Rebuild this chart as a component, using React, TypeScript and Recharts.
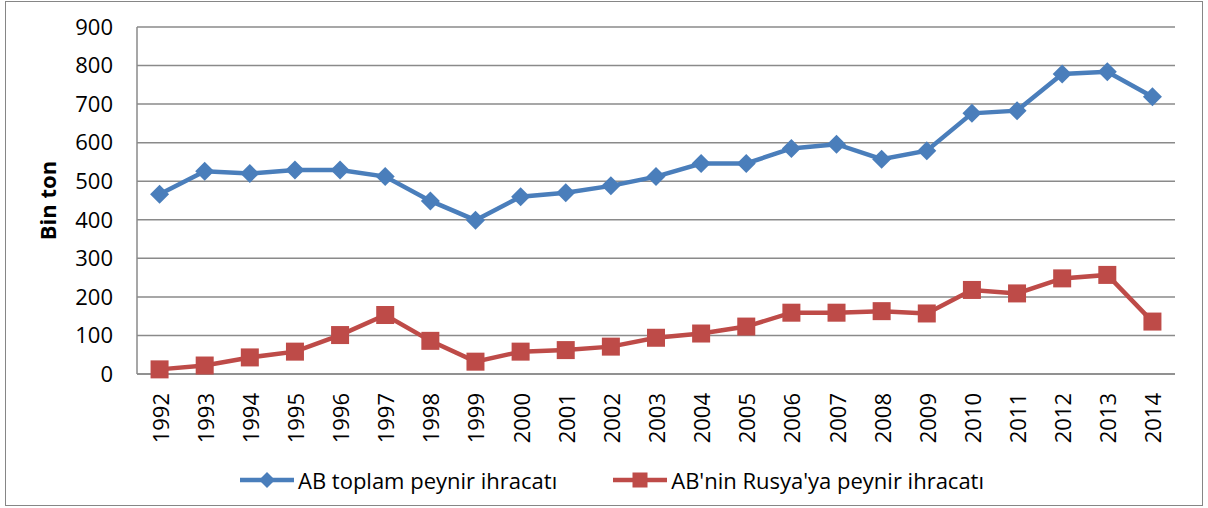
import React from 'react';
import { LineChart, Line, XAxis, YAxis, CartesianGrid, Legend } from 'recharts';

const years = [
  '1992', '1993', '1994', '1995', '1996', '1997', '1998', '1999', '2000', '2001', '2002', '2003',
  '2004', '2005', '2006', '2007', '2008', '2009', '2010', '2011', '2012', '2013', '2014',
];
const totalExports = [466, 526, 520, 529, 529, 512, 449, 399, 460, 470, 488, 512, 546, 546, 585, 596, 557, 579, 676, 683, 778, 784, 719];
const russiaExports = [12, 22, 43, 58, 101, 153, 86, 32, 58, 62, 71, 94, 105, 123, 159, 159, 163, 157, 218, 209, 248, 257, 136];
const yTicks = [0, 100, 200, 300, 400, 500, 600, 700, 800, 900];

const TOTAL_NAME = 'AB toplam peynir ihracatı';
const RUSSIA_NAME = "AB'nin Rusya'ya peynir ihracatı";

const BLUE = '#4A7EBB';
const RED = '#BE4B48';
const GRID = '#8a8a8a';
const FONT = '"Open Sans", Lato, sans-serif';
const FS = 22;

const data = years.map((year, i) => ({
  year,
  total: totalExports[i],
  russia: russiaExports[i],
}));

const Diamond = (props: any) => {
  const { cx, cy, key } = props;
  const r = 9.5;
  return <path key={key} d={`M${cx},${cy - r}L${cx + r},${cy}L${cx},${cy + r}L${cx - r},${cy}Z`} fill={BLUE} />;
};

const Square = (props: any) => {
  const { cx, cy, key } = props;
  const s = 18;
  return <rect key={key} x={cx - s / 2} y={cy - s / 2} width={s} height={s} fill={RED} />;
};

// rotated year labels, reading bottom to top
const YearTick = (props: any) => {
  const { x, y, payload } = props;
  return (
    <g transform={`translate(${x},${y + 19})`}>
      <text x={0} y={0} transform="rotate(-90)" textAnchor="end" dominantBaseline="central" fontSize={FS} fontFamily={FONT} fill="#000">
        {payload.value}
      </text>
    </g>
  );
};

const YTitle = (props: any) => {
  const { viewBox } = props;
  const cx = 41;
  const cy = viewBox.y + viewBox.height / 2;
  return (
    <text x={cx} y={cy} transform={`rotate(-90, ${cx}, ${cy})`} textAnchor="middle" dominantBaseline="central" fontSize={FS} fontWeight="bold" fontFamily={FONT} fill="#000">
      Bin ton
    </text>
  );
};

const LegendIcon = ({ color, square }: { color: string; square?: boolean }) => (
  <svg width={54} height={20} style={{ display: 'block' }}>
    <line x1={0} y1={10} x2={54} y2={10} stroke={color} strokeWidth={4.5} />
    {square ? <rect x={19.5} y={2.5} width={15} height={15} fill={color} /> : <path d="M27,2L35,10L27,18L19,10Z" fill={color} />}
  </svg>
);

const renderLegend = () => (
  <div style={{ display: 'flex', justifyContent: 'center', alignItems: 'center', height: 30, paddingLeft: 16, fontFamily: FONT, fontSize: FS, color: '#000' }}>
    <LegendIcon color={BLUE} />
    <span style={{ marginLeft: 4 }}>{TOTAL_NAME}</span>
    <span style={{ width: 56 }} />
    <LegendIcon color={RED} square />
    <span style={{ marginLeft: 4 }}>{RUSSIA_NAME}</span>
  </div>
);

export default function App() {
  return (
    <div
      style={{
        position: 'absolute',
        left: 5,
        top: 1,
        width: 1198,
        height: 505,
        border: '1px solid #868686',
        boxSizing: 'border-box',
        background: '#fff',
      }}
    >
      <LineChart width={1196} height={503} data={data} margin={{ top: 25, right: 27, bottom: 10, left: 0 }}>
        <CartesianGrid vertical={false} stroke={GRID} strokeWidth={1.5} />
        <XAxis
          dataKey="year"
          scale="band"
          height={91}
          tickSize={0}
          tickMargin={0}
          interval={0}
          axisLine={{ stroke: GRID, strokeWidth: 1.5 }}
          tickLine={false}
          tick={<YearTick />}
        />
        <YAxis
          domain={[0, 900]}
          ticks={yTicks}
          width={131}
          tickSize={0}
          tickMargin={24}
          tickLine={false}
          axisLine={{ stroke: GRID, strokeWidth: 1.5 }}
          tick={{ fontSize: FS, fontFamily: FONT, fill: '#000' }}
          label={<YTitle />}
        />
        <Legend verticalAlign="bottom" height={30} wrapperStyle={{ left: 0, width: 1196 }} content={renderLegend} />
        <Line
          type="linear"
          dataKey="total"
          name={TOTAL_NAME}
          stroke={BLUE}
          strokeWidth={4.5}
          dot={Diamond}
          activeDot={false}
          isAnimationActive={false}
        />
        <Line
          type="linear"
          dataKey="russia"
          name={RUSSIA_NAME}
          stroke={RED}
          strokeWidth={4.5}
          dot={Square}
          activeDot={false}
          isAnimationActive={false}
        />
      </LineChart>
    </div>
  );
}
